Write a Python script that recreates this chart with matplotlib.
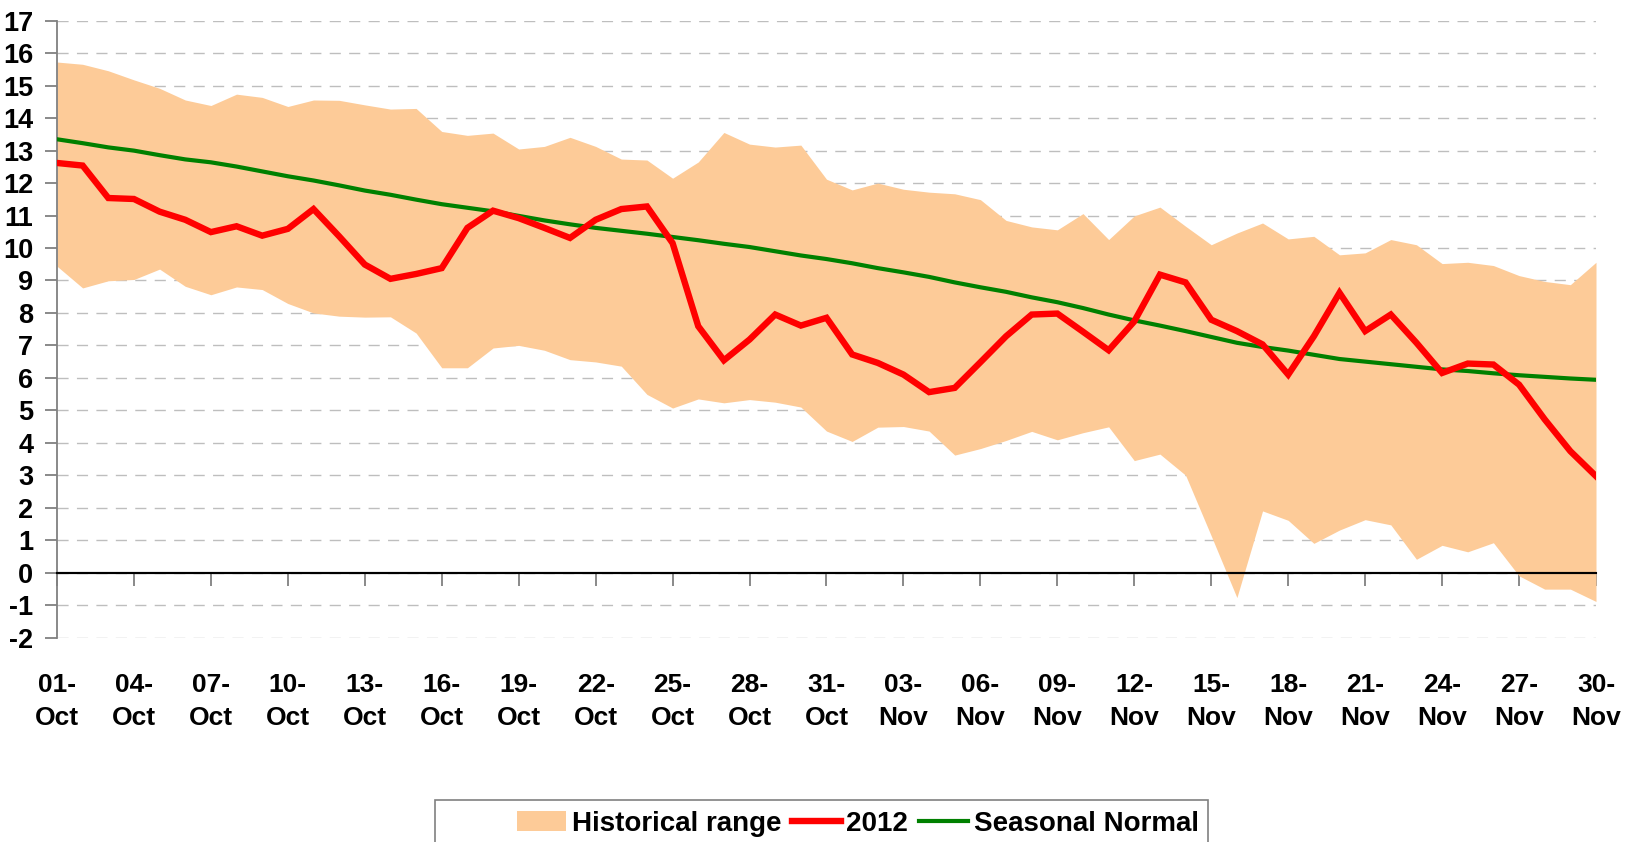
import numpy as np
import matplotlib
matplotlib.use("Agg")
import matplotlib.pyplot as plt
from matplotlib.patches import Patch, Rectangle
from matplotlib.lines import Line2D

plt.rcParams['font.family'] = ['Liberation Sans', 'DejaVu Sans']
plt.rcParams['font.weight'] = 'bold'

# ---- data (01-Oct .. 30-Nov, daily) ----
dates = [f"{d:02d}-Oct" for d in range(1, 32)] + [f"{d:02d}-Nov" for d in range(1, 31)]

y2012 = [12.62, 12.54, 11.54, 11.51, 11.12, 10.87, 10.49, 10.67, 10.38, 10.59,
         11.20, 10.36, 9.49, 9.05, 9.20, 9.38, 10.62, 11.15, 10.92, 10.62,
         10.31, 10.87, 11.20, 11.28, 10.15, 7.59, 6.54, 7.18, 7.95, 7.61,
         7.85, 6.72, 6.46, 6.10, 5.56, 5.69, 6.48, 7.28, 7.95, 7.98,
         7.42, 6.85, 7.74, 9.18, 8.94, 7.79, 7.44, 7.03, 6.10, 7.28,
         8.62, 7.44, 7.95, 7.08, 6.15, 6.44, 6.41, 5.79, 4.72, 3.74, 2.97]

seasonal = [13.35, 13.23, 13.10, 13.00, 12.86, 12.73, 12.64, 12.51, 12.36, 12.21,
            12.08, 11.93, 11.77, 11.64, 11.49, 11.35, 11.24, 11.13, 10.99, 10.85,
            10.73, 10.62, 10.53, 10.44, 10.34, 10.24, 10.13, 10.03, 9.90, 9.77,
            9.66, 9.53, 9.38, 9.25, 9.11, 8.94, 8.79, 8.65, 8.48, 8.33,
            8.15, 7.95, 7.77, 7.61, 7.44, 7.26, 7.08, 6.95, 6.84, 6.71,
            6.58, 6.50, 6.42, 6.34, 6.26, 6.21, 6.14, 6.08, 6.03, 5.98, 5.94]

hist_max = [15.73, 15.66, 15.46, 15.18, 14.92, 14.56, 14.39, 14.74, 14.64, 14.36,
            14.56, 14.55, 14.41, 14.28, 14.30, 13.59, 13.47, 13.54, 13.05, 13.13,
            13.41, 13.13, 12.74, 12.71, 12.15, 12.65, 13.56, 13.20, 13.11, 13.17,
            12.12, 11.79, 12.00, 11.81, 11.72, 11.67, 11.49, 10.85, 10.65, 10.56,
            11.06, 10.26, 10.99, 11.26, 10.67, 10.10, 10.46, 10.77, 10.28, 10.36,
            9.79, 9.85, 10.26, 10.10, 9.52, 9.56, 9.46, 9.15, 8.97, 8.87, 9.56]

hist_min = [9.44, 8.77, 8.99, 9.03, 9.35, 8.82, 8.56, 8.80, 8.72, 8.29,
            8.00, 7.90, 7.87, 7.88, 7.38, 6.31, 6.31, 6.92, 7.00, 6.85,
            6.56, 6.49, 6.36, 5.49, 5.07, 5.35, 5.23, 5.33, 5.25, 5.10,
            4.36, 4.04, 4.48, 4.50, 4.36, 3.62, 3.82, 4.07, 4.35, 4.09,
            4.31, 4.49, 3.45, 3.65, 3.00, 1.13, -0.77, 1.90, 1.61, 0.90,
            1.31, 1.63, 1.47, 0.41, 0.84, 0.64, 0.92, -0.10, -0.51, -0.51, -0.89]

y_ticks = list(range(-2, 18))
label_step = 3

# ---- figure ----
W, H = 1633, 842
fig = plt.figure(figsize=(W / 100, H / 100), dpi=100)
ax = fig.add_axes([57 / W, 1 - 637.5 / H, (1596 - 57) / W, (637.5 - 20.8) / H])

x = np.arange(len(dates))
fill_col = '#FDCB98'
ax.fill_between(x, hist_min, hist_max, color=fill_col, linewidth=0, zorder=2)
ax.axhline(0, color='black', linewidth=1.5, zorder=3)
ax.plot(x, seasonal, color='#008000', linewidth=3.0, zorder=4, solid_joinstyle='miter')
ax.plot(x, y2012, color='#FF0000', linewidth=4.6, zorder=5, solid_joinstyle='miter')

ax.set_xlim(0, len(dates) - 1)
ax.set_ylim(-2, 17)

for s in ['top', 'right']:
    ax.spines[s].set_visible(False)
ax.spines['left'].set_color('#808080')
ax.spines['left'].set_linewidth(1.3)
ax.spines['bottom'].set_position(('data', 0))
ax.spines['bottom'].set_color('black')
ax.spines['bottom'].set_linewidth(1.5)
ax.tick_params(axis='y', length=9, width=1.3, color='#808080', pad=8,
               direction='out', labelsize=19.5)
ax.tick_params(axis='x', length=9, width=1.3, color='#808080', pad=63,
               direction='out', labelsize=19)

ax.set_yticks(y_ticks)
ax.set_yticklabels([str(v) for v in y_ticks], fontsize=19.5, fontweight='bold')
ax.yaxis.grid(True, color='#BEBEBE', linestyle=(0, (8, 6)), linewidth=1.0, zorder=0)
ax.set_axisbelow(True)

tick_pos = x[::label_step]
ax.set_xticks(tick_pos)
ax.set_xticklabels([d.replace('-', '-\n') for d in dates[::label_step]],
                   fontsize=19, fontweight='bold', linespacing=1.5)

# ---- legend ----
handles = [Patch(facecolor=fill_col, edgecolor='none'),
           Line2D([], [], color='#FF0000', linewidth=4.6),
           Line2D([], [], color='#008000', linewidth=3.0)]
labels = ['Historical range', '2012', 'Seasonal Normal']
fig.legend(handles, labels, loc='center', bbox_to_anchor=(858 / W, 1 - 824 / H),
           ncol=3, frameon=False, prop={'size': 20, 'weight': 'bold'},
           handlelength=1.75, handletextpad=0.2, columnspacing=0.4,
           handleheight=0.75)
fig.patches.append(Rectangle((435 / W, -0.05), (1208 - 435) / W, 0.05 + (842 - 800) / H,
                             transform=fig.transFigure, fill=False,
                             edgecolor='#808080', linewidth=1.2))

fig.savefig('out.png', dpi=100)
